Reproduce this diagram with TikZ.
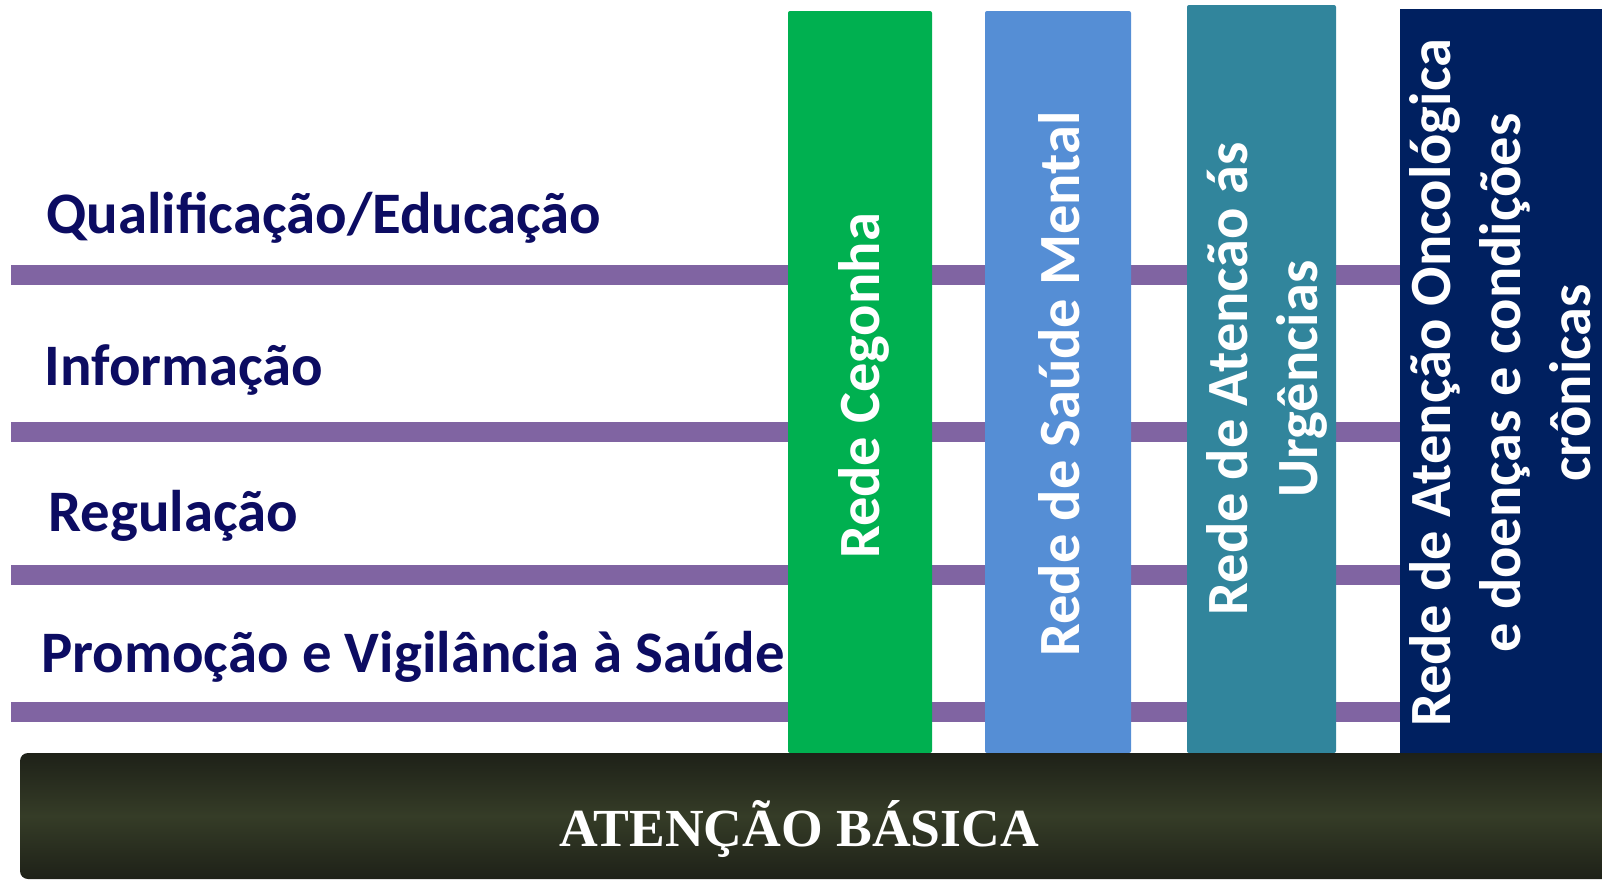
\documentclass[tikz,border=0pt]{standalone}
\usepackage{fontspec}
\setmainfont{Carlito}
\newfontfamily\basefont{Liberation Serif}
\usetikzlibrary{positioning}

\definecolor{eixonavy}{HTML}{0C0C62}
\definecolor{eixopurple}{HTML}{8064A2}
\definecolor{cegonhagreen}{HTML}{00B050}
\definecolor{mentalblue}{HTML}{558ED5}
\definecolor{urgteal}{HTML}{31859C}
\definecolor{oncnavy}{HTML}{002060}
\definecolor{basedark}{HTML}{1E2118}
\definecolor{basemid}{HTML}{353C27}

\tikzset{
  eixotext/.style={anchor=base west,inner sep=0pt,text=eixonavy,
    font=\bfseries\fontsize{29.4}{36}\selectfont},
  redebox/.style={rotate=90,inner sep=0pt,rounded corners=1pt},
  redetext/.style={rotate=90,inner sep=0pt,text=white,align=center,
    font=\bfseries\fontsize{29.2}{35}\selectfont},
}

\begin{document}
\begin{tikzpicture}[x=0.5pt,y=-0.5pt]
  \useasboundingbox (0,0) rectangle (1602,879);
  % purple axes
  \foreach \y in {275,432,575,711.5}
    \fill[eixopurple] (11,\y-10) rectangle (1400,\y+10);
  % axis labels
  \node[eixotext] (qualif) at (46,233) {Qualificação/Educação};
  \node[eixotext] (info) at (44,385) {Informação};
  \node[eixotext] (regul) at (48,531) {Regulação};
  \node[eixotext] (promo) at (41,672) {Promoção e Vigilância à Saúde};
  % networks
  \node[redebox,fill=cegonhagreen,minimum width=371pt,minimum height=72pt] (cegonha) at (860,382) {};
  \node[redetext] (cegonhatxt) at ([xshift=2pt,yshift=-2pt]cegonha.center) {Rede Cegonha};
  \node[redebox,fill=mentalblue,minimum width=371pt,minimum height=73pt] (mental) at (1058,382) {};
  \node[redetext] (mentaltxt) at ([xshift=0.5pt,yshift=-1pt]mental.center) {Rede de Saúde Mental};
  \node[redebox,fill=urgteal,minimum width=374pt,minimum height=74.5pt] (urgencia) at (1261.5,379) {};
  \node[redetext] (urgenciatxt) at ([xshift=2.5pt]urgencia.center) {Rede de Atencão ás\\Urgências};
  \node[redebox,fill=oncnavy,rounded corners=0pt,minimum width=372pt,minimum height=101pt] (oncologia) at (1501,381) {};
  \node[redetext,anchor=north] (oncologiatxt) at ([xshift=-46pt,yshift=-1pt]oncologia.center) {Rede de Atenção Oncológica\\e doenças e condições\\crônicas};
  % base
  \shade[top color=basedark,bottom color=basedark,middle color=basemid]
    (1602,753) [rounded corners=4pt] -- (20,753) -- (20,879) [sharp corners] -- (1602,879) -- cycle;
  \node[anchor=base,inner sep=0pt,text=white,font=\basefont\bfseries\fontsize{26.8}{30}\selectfont] (basica) at (799,846) {ATENÇÃO BÁSICA};
\end{tikzpicture}
\end{document}
